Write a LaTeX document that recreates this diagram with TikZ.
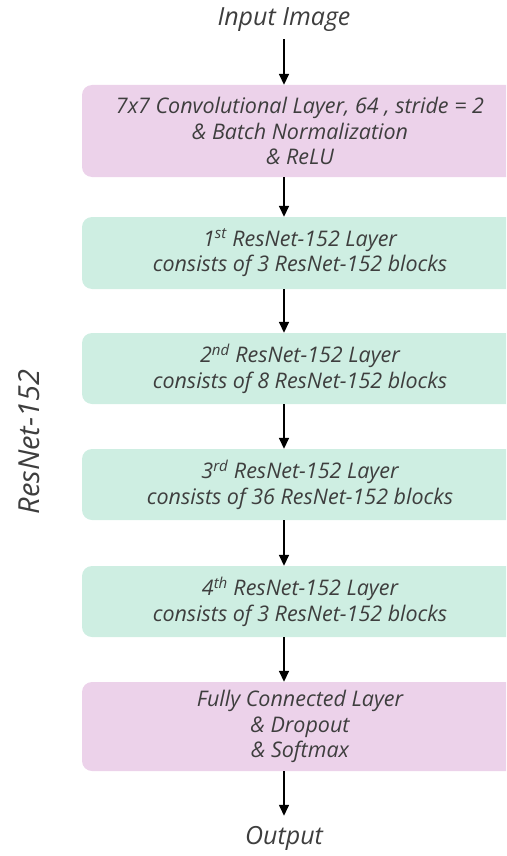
\documentclass[tikz,border=0pt]{standalone}
\usepackage{fontspec}
\setmainfont{Open Sans}
\usetikzlibrary{arrows.meta}
\definecolor{pinkbox}{RGB}{236,210,234}
\definecolor{greenbox}{RGB}{206,238,226}
\definecolor{txt}{RGB}{62,62,62}
\tikzset{
  layerbox/.style={rounded corners=10pt, minimum width=436pt, align=center,
    font=\fontsize{21.5}{25.5}\selectfont\itshape, text=txt, inner sep=0pt},
  pinkstyle/.style={layerbox, fill=pinkbox},
  greenstyle/.style={layerbox, fill=greenbox},
  plain/.style={font=\fontsize{25}{30}\selectfont\itshape, text=txt, inner sep=0pt},
  arr/.style={line width=1.6pt, -{Triangle[length=11pt,width=10pt]}}
}
\begin{document}
\begin{tikzpicture}[x=1pt,y=-1pt]
\useasboundingbox (0,0) rectangle (506,856);
\clip (0,0) rectangle (506,856);
\node[plain] (in) at (284,20) {Input Image};
\node[pinkstyle, minimum height=92pt] (b1) at (300,131) {7x7 Convolutional Layer, 64 , stride = 2\\ \& Batch Normalization\\ \& ReLU};
\node[greenstyle, minimum height=72pt] (b2) at (300,253) {1\textsuperscript{st} ResNet-152 Layer\\ consists of 3 ResNet-152 blocks};
\node[greenstyle, minimum height=71pt] (b3) at (300,368.5) {2\textsuperscript{nd} ResNet-152 Layer\\ consists of 8 ResNet-152 blocks};
\node[greenstyle, minimum height=71pt] (b4) at (300,484.5) {3\textsuperscript{rd} ResNet-152 Layer\\ consists of 36 ResNet-152 blocks};
\node[greenstyle, minimum height=71pt] (b5) at (300,601.5) {4\textsuperscript{th} ResNet-152 Layer\\ consists of 3 ResNet-152 blocks};
\node[pinkstyle, minimum height=89pt] (b6) at (300,726.5) {Fully Connected Layer\\ \& Dropout\\ \& Softmax};
\node[plain] (out) at (284,838) {Output};
\node[plain, font=\fontsize{29}{34}\selectfont\itshape, rotate=90] (lbl) at (29,442) {ResNet-152};
\coordinate (ax) at (284,0);
\draw[arr] (in.south) ++(0,7) coordinate (s0) -- (b1.north -| s0);
\draw[arr] (b1.south -| ax) -- (b2.north -| ax);
\draw[arr] (b2.south -| ax) -- (b3.north -| ax);
\draw[arr] (b3.south -| ax) -- (b4.north -| ax);
\draw[arr] (b4.south -| ax) -- (b5.north -| ax);
\draw[arr] (b5.south -| ax) -- (b6.north -| ax);
\draw[arr] (b6.south -| ax) -- ([yshift=10pt]out.north -| ax);
\end{tikzpicture}
\end{document}
